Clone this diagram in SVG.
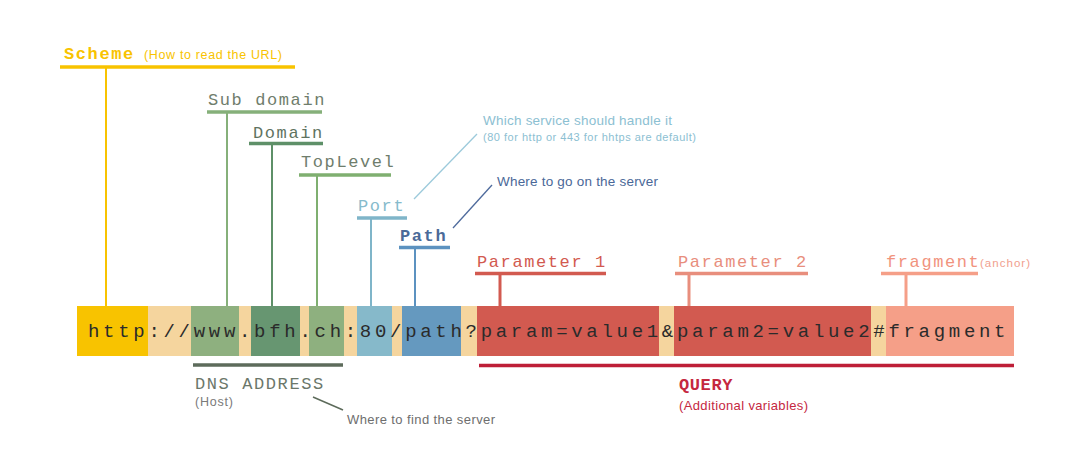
<svg xmlns="http://www.w3.org/2000/svg" width="1092" height="470" viewBox="0 0 1092 470">
<style>
.lbl{font-family:"Liberation Mono","Courier New",monospace;font-size:17px;letter-spacing:1.6px}
.url{font-family:"Liberation Mono","Courier New",monospace;font-size:19px;letter-spacing:3.7px;fill:#2b2b2b}
.sans{font-family:"Liberation Sans",Arial,sans-serif}
.ul{stroke-width:3.5;fill:none}
.vl{stroke-width:2;fill:none}
</style>
<rect width="1092" height="470" fill="#ffffff"/>

<g id="url-bar">
<rect x="77" y="306" width="937" height="50" fill="#F5D59E"/>
<rect x="77" y="306" width="71" height="50" fill="#F8C300"/>
<rect x="191" y="306" width="48" height="50" fill="#8EB07F"/>
<rect x="251" y="306" width="49" height="50" fill="#679671"/>
<rect x="309" y="306" width="35" height="50" fill="#8EB07F"/>
<rect x="357" y="306" width="35" height="50" fill="#86B9CA"/>
<rect x="402" y="306" width="59" height="50" fill="#6599BF"/>
<rect x="477" y="306" width="182" height="50" fill="#D25A50"/>
<rect x="674" y="306" width="197" height="50" fill="#D25A50"/>
<rect x="886" y="306" width="128" height="50" fill="#F59F88"/>
<text class="url" x="88" y="337">http://www.bfh.ch:80/path?param=value1&amp;param2=value2#fragment</text>
</g>

<g id="connectors">
<line x1="106" y1="67" x2="106" y2="306" stroke="#F8C300" class="vl"/>
<line x1="227" y1="112" x2="227" y2="306" stroke="#86B07A" class="vl"/>
<line x1="272" y1="143.5" x2="272" y2="306" stroke="#5E9068" class="vl"/>
<line x1="317" y1="175" x2="317" y2="306" stroke="#7FAF70" class="vl"/>
<line x1="371" y1="218" x2="371" y2="306" stroke="#7FB5C9" class="vl"/>
<line x1="415" y1="247.5" x2="415" y2="306" stroke="#5C92C0" class="vl"/>
<line x1="500" y1="273.5" x2="500" y2="306" stroke="#D25A50" stroke-width="3"/>
<line x1="689" y1="273.5" x2="689" y2="306" stroke="#E88E7D" stroke-width="3"/>
<line x1="906" y1="273.5" x2="906" y2="306" stroke="#F59F88" stroke-width="3"/>
<line x1="414" y1="199" x2="477" y2="134" stroke="#9CCADB" stroke-width="1.3"/>
<line x1="453" y1="228" x2="492" y2="185" stroke="#4E6A9C" stroke-width="1.3"/>
<line x1="313" y1="397" x2="343" y2="410" stroke="#5D6B5B" stroke-width="1.5"/>
</g>

<g id="scheme">
<text class="lbl" x="64" y="59" fill="#F8C300" font-weight="bold">Scheme</text>
<text class="sans" x="144" y="59" font-size="12.5" fill="#F8C300" textLength="138">(How to read the URL)</text>
<line x1="60" y1="67" x2="295" y2="67" stroke="#F8C300" class="ul"/>
</g>

<g id="subdomain">
<text class="lbl" x="208" y="105" fill="#6F7D6C">Sub domain</text>
<line x1="207" y1="112" x2="322" y2="112" stroke="#86B07A" class="ul"/>
</g>

<g id="domain">
<text class="lbl" x="253" y="138" fill="#5F735F">Domain</text>
<line x1="249" y1="143.5" x2="323" y2="143.5" stroke="#5E9068" class="ul"/>
</g>

<g id="toplevel">
<text class="lbl" x="301" y="167" fill="#6F7D6C">TopLevel</text>
<line x1="299" y1="175" x2="391" y2="175" stroke="#7FAF70" class="ul"/>
</g>

<g id="port">
<text class="lbl" x="358" y="211" fill="#86BBCC">Port</text>
<line x1="357" y1="218" x2="407" y2="218" stroke="#7FB5C9" class="ul"/>
<text class="sans" x="483" y="125" font-size="13.5" fill="#8CC0D2" textLength="189">Which service should handle it</text>
<text class="sans" x="483" y="141" font-size="11" fill="#8CC0D2" textLength="213">(80 for http or 443 for hhtps are default)</text>
</g>

<g id="path">
<text class="lbl" x="400" y="241" fill="#4A6A98" font-weight="bold">Path</text>
<line x1="399" y1="247.5" x2="450" y2="247.5" stroke="#5C92C0" class="ul"/>
<text class="sans" x="497" y="186" font-size="13.5" fill="#4A6898" textLength="161">Where to go on the server</text>
</g>

<g id="parameter1">
<text class="lbl" x="477" y="267" fill="#D25A50">Parameter 1</text>
<line x1="475" y1="273.5" x2="606" y2="273.5" stroke="#D25A50" class="ul"/>
</g>

<g id="parameter2">
<text class="lbl" x="678" y="267" fill="#E88E7D">Parameter 2</text>
<line x1="675" y1="273.5" x2="808" y2="273.5" stroke="#E88E7D" class="ul"/>
</g>

<g id="fragment">
<text class="lbl" x="886" y="267" fill="#F1937E">fragment</text>
<text class="sans" x="980" y="267" font-size="11.5" fill="#F1A08E" textLength="50">(anchor)</text>
<line x1="881" y1="273.5" x2="978" y2="273.5" stroke="#F59F88" class="ul"/>
</g>

<g id="dns-address">
<line x1="193" y1="365" x2="343" y2="365" stroke="#5D6B5B" class="ul"/>
<text class="lbl" x="195" y="389" fill="#6B776A">DNS ADDRESS</text>
<text class="sans" x="195" y="406" font-size="12.5" fill="#7A7A7A" textLength="38">(Host)</text>
<text class="sans" x="347" y="424" font-size="13" fill="#6E6E6E" textLength="148">Where to find the server</text>
</g>

<g id="query">
<line x1="479" y1="365.5" x2="1014" y2="365.5" stroke="#BE1E37" class="ul"/>
<text class="lbl" x="679" y="390" fill="#C5283F" font-weight="bold" style="letter-spacing:0.6px">QUERY</text>
<text class="sans" x="679" y="410" font-size="13" fill="#C5283F" textLength="129">(Additional variables)</text>
</g>
</svg>
